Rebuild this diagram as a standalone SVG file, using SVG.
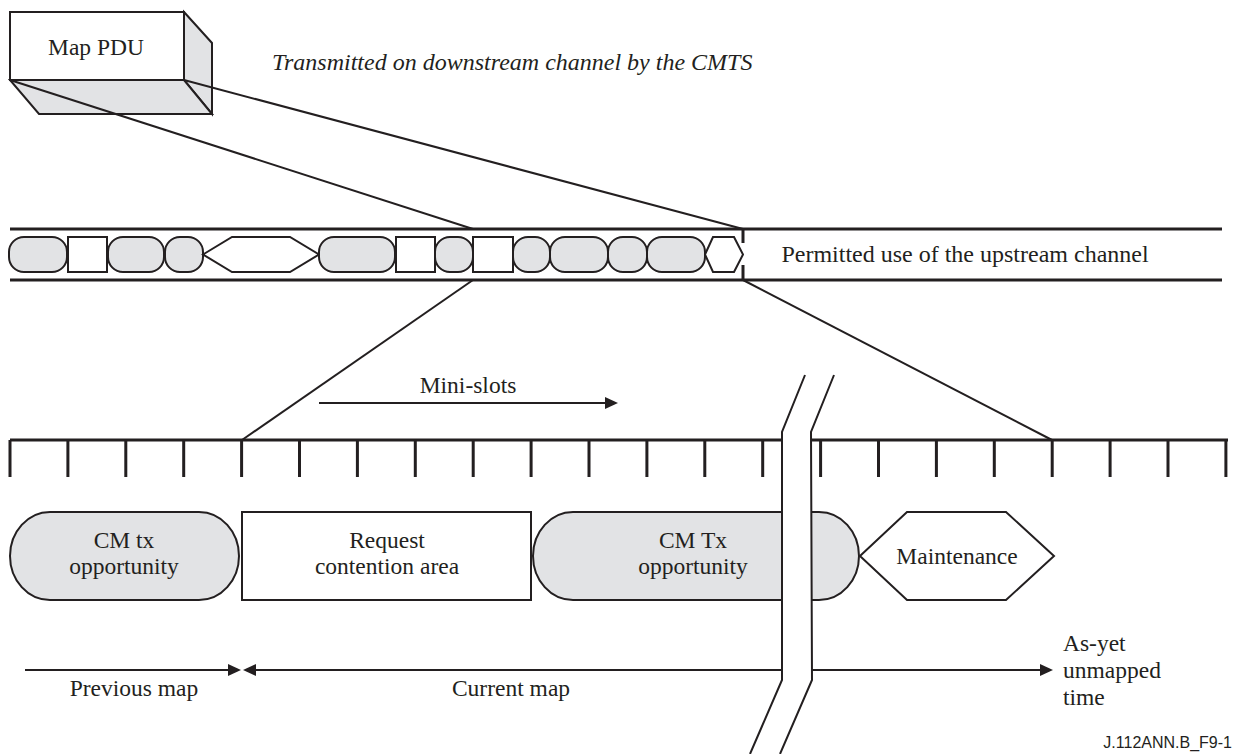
<svg xmlns="http://www.w3.org/2000/svg" width="1234" height="754" viewBox="0 0 1234 754">
<defs>
<style>
.t{font-family:"Liberation Serif","Times New Roman",serif;font-size:23.5px;fill:#231f20}
.tb{font-family:"Liberation Serif","Times New Roman",serif;font-size:24px;fill:#231f20}
.ti{font-family:"Liberation Serif","Times New Roman",serif;font-size:24px;font-style:italic;fill:#231f20}
.ft{font-family:"Liberation Sans",Arial,sans-serif;font-size:16px;fill:#231f20}
.g{fill:#e2e3e5;stroke:#231f20;stroke-width:2}
.w{fill:#fff;stroke:#231f20;stroke-width:2}
.ln{fill:none;stroke:#231f20;stroke-width:2}
.bar{fill:none;stroke:#231f20;stroke-width:3}
.ah{fill:#231f20}
</style>
</defs>
<rect width="1234" height="754" fill="#fff"/>

<g id="map-pdu">
<polygon class="g" points="184,12 212,43 212,114 184,80"/>
<polygon class="g" points="10,80 184,80 212,114 39,114"/>
<rect class="w" x="10" y="12" width="174" height="68" stroke-width="2.5"/>
<text class="t" x="96" y="55" text-anchor="middle">Map PDU</text>
</g>
<text class="ti" x="272" y="70">Transmitted on downstream channel by the CMTS</text>

<g id="connectors">
<line class="ln" x1="10" y1="80" x2="473" y2="229"/>
<line class="ln" x1="184" y1="80" x2="743" y2="229"/>
<line class="ln" x1="473" y1="280" x2="242" y2="440"/>
<line class="ln" x1="743" y1="280" x2="1052" y2="440"/>
</g>

<g id="upstream-channel">
<line class="bar" x1="10" y1="229" x2="1222" y2="229"/>
<line class="bar" x1="10" y1="280" x2="1222" y2="280"/>
<line class="bar" x1="743" y1="229" x2="743" y2="243"/>
<line class="bar" x1="743" y1="265" x2="743" y2="280"/>
<rect class="g" x="9" y="237" width="58" height="35" rx="15"/>
<rect class="w" x="68" y="237" width="39" height="35"/>
<rect class="g" x="108" y="237" width="56" height="35" rx="15"/>
<rect class="g" x="165" y="237" width="38" height="35" rx="15"/>
<polygon class="w" points="203,254.5 232,237 290,237 319,254.5 290,272 232,272"/>
<rect class="g" x="319" y="237" width="76" height="35" rx="15"/>
<rect class="w" x="396" y="237" width="39" height="35"/>
<rect class="g" x="435" y="237" width="38" height="35" rx="15"/>
<rect class="w" x="473" y="237" width="40" height="35"/>
<rect class="g" x="513" y="237" width="37" height="35" rx="15"/>
<rect class="g" x="550" y="237" width="58" height="35" rx="15"/>
<rect class="g" x="608" y="237" width="39" height="35" rx="15"/>
<rect class="g" x="647" y="237" width="58" height="35" rx="15"/>
<polygon class="w" points="705,254.5 713,237 734,237 743,254.5 734,272 713,272"/>
<text class="tb" x="965" y="262" text-anchor="middle">Permitted use of the upstream channel</text>
</g>

<g id="mini-slots">
<text class="t" x="468" y="393" text-anchor="middle">Mini-slots</text>
<line class="ln" x1="319" y1="403" x2="606" y2="403"/>
<polygon class="ah" points="618,403 605,397 605,409"/>
</g>

<g id="ticks">
<line class="bar" x1="10" y1="440" x2="1228" y2="440"/>
<path class="bar" d="M10,440V477M67.9,440V477M125.8,440V477M183.7,440V477M241.6,440V477M299.5,440V477M357.4,440V477M415.3,440V477M473.2,440V477M531.1,440V477M589,440V477M646.9,440V477M704.8,440V477M762.7,440V477M820.6,440V477M878.5,440V477M936.4,440V477M994.3,440V477M1052.2,440V477M1110.1,440V477M1168,440V477M1225.9,440V477"/>
</g>

<g id="cm-tx-1">
<rect class="g" x="10" y="512" width="229" height="88" rx="40" ry="44"/>
<text class="t" x="124" y="548" text-anchor="middle">CM tx</text>
<text class="t" x="124" y="574" text-anchor="middle">opportunity</text>
</g>
<g id="request">
<rect class="w" x="242" y="512" width="289" height="88"/>
<text class="t" x="387" y="548" text-anchor="middle">Request</text>
<text class="t" x="387" y="574" text-anchor="middle">contention area</text>
</g>
<g id="cm-tx-2">
<rect class="g" x="533" y="512" width="326" height="88" rx="40" ry="44"/>
<text class="t" x="693" y="548" text-anchor="middle">CM Tx</text>
<text class="t" x="693" y="574" text-anchor="middle">opportunity</text>
</g>
<g id="maintenance">
<polygon class="w" points="860,556 907,512 1006,512 1054,556 1006,600 907,600"/>
<text class="t" x="957" y="564" text-anchor="middle">Maintenance</text>
</g>

<g id="map-arrows">
<line class="ln" x1="25" y1="670" x2="230" y2="670"/>
<polygon class="ah" points="241,670 228,664 228,676"/>
<line class="ln" x1="255" y1="670" x2="1041" y2="670"/>
<polygon class="ah" points="243,670 256,664 256,676"/>
<polygon class="ah" points="1053,670 1040,664 1040,676"/>
<text class="t" x="134" y="696" text-anchor="middle">Previous map</text>
<text class="t" x="511" y="696" text-anchor="middle">Current map</text>
<text class="t" x="1063" y="651">As-yet</text>
<text class="t" x="1063" y="678">unmapped</text>
<text class="t" x="1063" y="705">time</text>
</g>

<g id="break">
<polygon fill="#fff" points="805,375 782,432 782,680 750,754 780,754 812,680 811,432 834,375"/>
<polyline class="ln" points="805,375 782,432 782,680 750,754"/>
<polyline class="ln" points="834,375 811,432 812,680 780,754"/>
</g>

<text class="ft" x="1232" y="748" text-anchor="end">J.112ANN.B_F9-1</text>
</svg>
